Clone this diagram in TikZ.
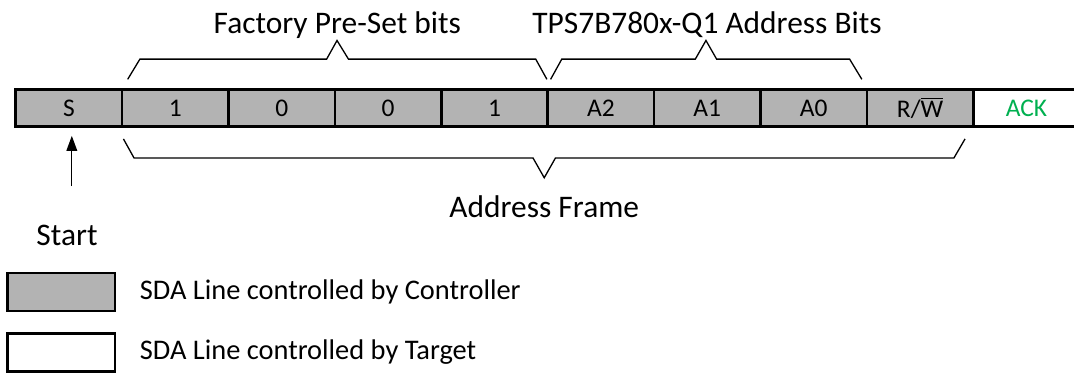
\documentclass[tikz,border=0pt]{standalone}
\usepackage{fontspec}
\setmainfont{Carlito}
\usetikzlibrary{positioning,arrows.meta}
\definecolor{ctrlgray}{RGB}{179,179,179}
\definecolor{ackgreen}{RGB}{0,176,80}
\tikzset{
  bitcell/.style={draw, line width=1.3pt, fill=ctrlgray, minimum width=2cm, minimum height=0.7cm, inner sep=0pt, font=\fontsize{13.6}{16}\selectfont},
  heading/.style={inner sep=0pt, font=\fontsize{16.8}{20}\selectfont},
  legendbox/.style={draw, line width=1.3pt, minimum width=2.02cm, minimum height=0.71cm, inner sep=0pt},
  legendtext/.style={inner sep=0pt, font=\fontsize{15.2}{18}\selectfont},
  bracket/.style={line width=0.7pt, line join=miter}
}
\begin{document}
\begin{tikzpicture}
      \clip (0,0) rectangle (20.188,7.011);
      \fill[white] (0,0) rectangle (20.188,7.011);
      \foreach \lbl [count=\i] in {S, 1, 0, 0, 1, A2, A1, A0, {R/$\overline{\hbox{W}}$}}
      \node[bitcell] (b\i) at (2*\i-0.705, 4.98) {\lbl};
      \node[bitcell, fill=white, text=ackgreen] (ack) at (19.295, 4.98) {ACK};
      \draw[bracket] (2.40,5.52) -- (2.63,5.90) -- (6.14,5.90) -- (6.335,6.25) -- (6.55,5.90) -- (10.07,5.90) -- (10.28,5.52);
      \draw[bracket] (10.35,5.52) -- (10.56,5.90) -- (13.07,5.90) -- (13.27,6.25) -- (13.47,5.90) -- (15.97,5.90) -- (16.20,5.52);
      \draw[bracket] (2.32,4.40) -- (2.52,4.04) -- (10.02,4.04) -- (10.23,3.67) -- (10.44,4.04) -- (17.93,4.04) -- (18.14,4.40);
      \node[heading, anchor=base] (preset) at (6.34,6.39) {Factory Pre-Set bits};
      \node[heading, anchor=base] (addrbits) at (13.29,6.39) {TPS7B780x-Q1 Address Bits};
      \node[heading, anchor=base] (frame) at (10.23,2.92) {Address Frame};
      \node[heading, anchor=base] (start) at (1.26,2.40) {Start};
      \draw[line width=0.7pt, -{Triangle[length=0.28cm,width=0.2cm]}, shorten <=0.72cm, shorten >=0.15cm]
        ([xshift=0.09cm]start.north) -- ([xshift=0.09cm]start.north |- b1.south);
      \node[legendbox, fill=ctrlgray] (ctrlkey) at (1.15,1.52) {};
      \node[legendtext, right=0.44cm of ctrlkey] (ctrltext) {SDA Line controlled by Controller};
      \node[legendbox, fill=white] (targkey) at (1.15,0.385) {};
      \node[legendtext, right=0.44cm of targkey] (targtext) {SDA Line controlled by Target};
     \end{tikzpicture}
\end{document}
